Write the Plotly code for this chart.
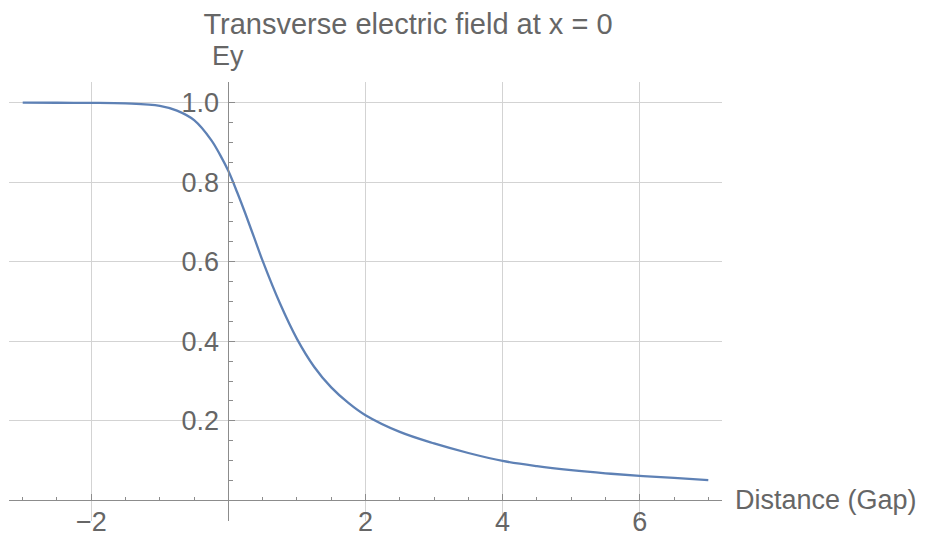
import plotly.graph_objects as go

# ---- data ----
distance = [-3, -2.5, -2, -1.5, -1, -0.75, -0.5, -0.25, -0.125, 0, 0.125,
            0.25, 0.375, 0.5, 0.75, 1, 1.25, 1.5, 1.75, 2, 2.5, 3, 3.5, 4,
            4.5, 5, 5.5, 6, 6.5, 7]
ey = [1.0, 0.9998, 0.9995, 0.998, 0.992, 0.980, 0.956, 0.906, 0.870, 0.828,
      0.776, 0.720, 0.661, 0.602, 0.496, 0.406, 0.336, 0.284, 0.245, 0.214,
      0.172, 0.143, 0.119, 0.099, 0.086, 0.076, 0.068, 0.0615, 0.0562, 0.051]

x_major = [-2, 2, 4, 6]
x_major_text = ["\u22122", "2", "4", "6"]
x_minor = [v / 2 for v in range(-6, 15)]
y_major = [0.2, 0.4, 0.6, 0.8, 1.0]
y_major_text = ["0.2", "0.4", "0.6", "0.8", "1.0"]
y_minor = [round(v * 0.05, 2) for v in range(-1, 22)]

title_text = "Transverse electric field at x = 0"
x_label = "Distance (Gap)"
y_label = "Ey"

X_RANGE = [-3.2, 7.2]
Y_RANGE = [-0.052, 1.052]

FONT = "Liberation Sans, Arial, Helvetica, sans-serif"
TXT = "#666666"
AXC = "#8c8c8c"
GRID = "#d3d3d3"

# page body has an 8px default margin; figure is sized/offset to compensate
W, H = 921, 530

fig = go.Figure()
fig.add_trace(go.Scatter(
    x=distance, y=ey, mode="lines",
    line=dict(color="#5E81B5", width=2.3, shape="spline", smoothing=1.0),
    showlegend=False, hoverinfo="skip"))

x_pos = (0 - Y_RANGE[0]) / (Y_RANGE[1] - Y_RANGE[0])
y_pos = (0 - X_RANGE[0]) / (X_RANGE[1] - X_RANGE[0])

fig.update_layout(
    width=W, height=H,
    margin=dict(l=1.3, r=207.3, t=73.8, b=17.3, autoexpand=False),
    paper_bgcolor="white", plot_bgcolor="white",
    font=dict(family=FONT, size=27, color=TXT),
    title=dict(text=title_text, x=0.5596, xref="paper", xanchor="center",
               y=1 - 16 / H, yref="container", yanchor="middle",
               font=dict(family=FONT, size=29, color=TXT)),
    xaxis=dict(range=X_RANGE, anchor="free", position=x_pos,
               showline=True, linecolor=AXC, linewidth=1,
               showgrid=True, gridcolor=GRID, gridwidth=1,
               zeroline=False,
               tickmode="array", tickvals=x_major, ticktext=x_major_text,
               ticks="inside", ticklen=6, tickcolor=AXC, tickwidth=1,
               ticklabelstandoff=-3,
               tickfont=dict(family=FONT, size=27, color=TXT),
               minor=dict(tickvals=x_minor, ticks="inside", ticklen=3.5,
                          tickcolor=AXC, showgrid=False),
               fixedrange=True),
    yaxis=dict(range=Y_RANGE, anchor="free", position=y_pos,
               showline=True, linecolor=AXC, linewidth=1,
               showgrid=True, gridcolor=GRID, gridwidth=1,
               zeroline=False,
               tickmode="array", tickvals=y_major, ticktext=y_major_text,
               ticks="inside", ticklen=6, tickcolor=AXC, tickwidth=1,
               ticklabelstandoff=4,
               tickfont=dict(family=FONT, size=27, color=TXT),
               minor=dict(tickvals=y_minor, ticks="inside", ticklen=3.5,
                          tickcolor=AXC, showgrid=False),
               fixedrange=True),
    annotations=[
        dict(text=y_label, xref="x", x=0, yref="paper",
             y=1 + 26 / 439, xanchor="center", yanchor="middle",
             showarrow=False, font=dict(family=FONT, size=27, color=TXT)),
        dict(text=x_label, xref="paper", x=1, xshift=11, yref="y", y=0,
             xanchor="left", yanchor="middle", showarrow=False,
             font=dict(family=FONT, size=27, color=TXT)),
    ],
)

fig.write_html("out.html")
